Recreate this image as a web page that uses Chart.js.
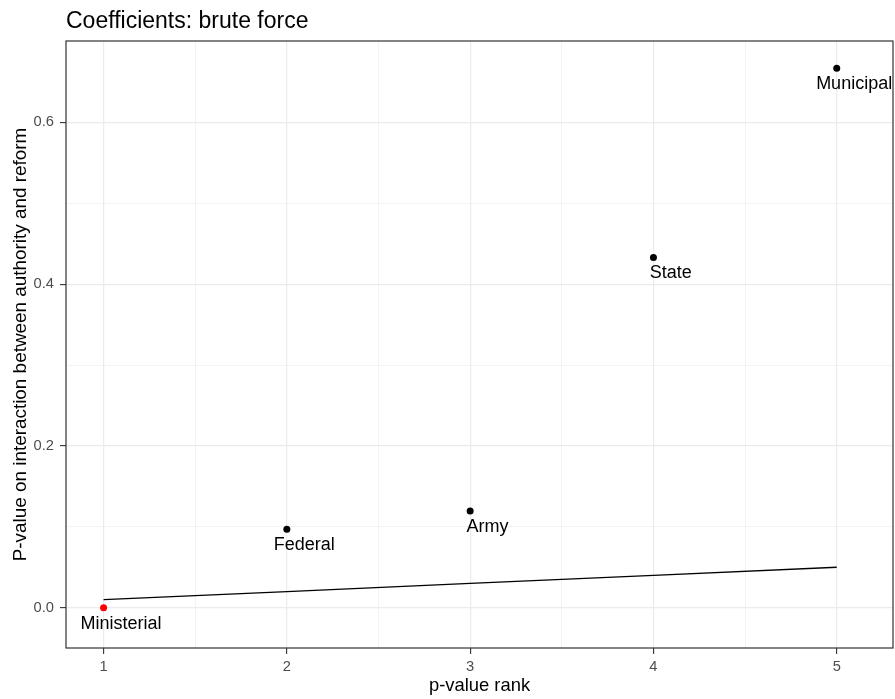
<!DOCTYPE html>
<html>
<head>
<meta charset="utf-8">
<script src="https://cdn.jsdelivr.net/npm/chart.js@4.4.1/dist/chart.umd.min.js"></script>
<style>
  html, body { margin: 0; padding: 0; background: #fff; overflow: hidden; }
  #wrap { width: 895px; height: 699px; position: relative; }
</style>
</head>
<body>
<div id="wrap"><canvas id="chart"></canvas></div>
<script>
const titleText = 'Coefficients: brute force';
const xTitle = 'p-value rank';
const yTitle = 'P-value on interaction between authority and reform';

// coefficients, ordered by p-value rank
const authorities = ['Ministerial', 'Federal', 'Army', 'State', 'Municipal'];
const ranks = [1, 2, 3, 4, 5];
const pValues = [0.0, 0.097, 0.1195, 0.433, 0.6667];
const significant = [true, false, false, false, false];

// threshold line (rank * 0.05 / 5)
const thresholdRanks = [1, 2, 3, 4, 5];
const thresholdValues = [0.01, 0.02, 0.03, 0.04, 0.05];

const xMajor = [1, 2, 3, 4, 5];
const xMinor = [1.5, 2.5, 3.5, 4.5];
const yMajor = [0.0, 0.2, 0.4, 0.6];
const yMinor = [0.1, 0.3, 0.5];

const FONT = '"Liberation Sans", Arial, Helvetica, sans-serif';
const GRID = '#EBEBEB';
const INK = '#333333';
const nudgeX = 0.095;
const nudgeY = -0.026;

function buildTicks(major, minor) {
  return major.concat(minor).sort((a, b) => a - b).map(v => ({ value: v, major: major.includes(v) }));
}

const isMajor = (ctx, list) => ctx.tick && list.includes(ctx.tick.value);

const labelPlugin = {
  id: 'pointLabels',
  afterDatasetsDraw(chart) {
    const { ctx, chartArea: a, scales } = chart;
    ctx.save();
    ctx.beginPath();
    ctx.rect(a.left, a.top, a.right - a.left, a.bottom - a.top);
    ctx.clip();
    ctx.font = `18px ${FONT}`;
    ctx.fillStyle = '#000';
    ctx.textAlign = 'center';
    ctx.textBaseline = 'alphabetic';
    authorities.forEach((name, i) => {
      const px = scales.x.getPixelForValue(ranks[i] + nudgeX);
      const py = scales.y.getPixelForValue(pValues[i] + nudgeY);
      ctx.fillText(name, px, py);
    });
    ctx.restore();
  }
};

const framePlugin = {
  id: 'panelFrame',
  afterDraw(chart) {
    const { ctx, chartArea: a } = chart;
    ctx.save();
    ctx.strokeStyle = INK;
    ctx.lineWidth = 1.2;
    ctx.strokeRect(a.left, a.top, a.right - a.left, a.bottom - a.top);
    ctx.font = `23px ${FONT}`;
    ctx.fillStyle = '#000';
    ctx.textAlign = 'left';
    ctx.textBaseline = 'alphabetic';
    ctx.fillText(titleText, a.left, 28);
    ctx.restore();
  }
};

new Chart(document.getElementById('chart'), {
  type: 'scatter',
  data: {
    datasets: [
      {
        type: 'line',
        data: thresholdRanks.map((r, i) => ({ x: r, y: thresholdValues[i] })),
        borderColor: '#000',
        borderWidth: 1.3,
        pointRadius: 0,
        fill: false,
        tension: 0
      },
      {
        data: ranks.map((r, i) => ({ x: r, y: pValues[i] })),
        pointRadius: 3.5,
        pointHoverRadius: 3.5,
        pointBorderWidth: 0,
        pointBackgroundColor: significant.map(s => s ? '#FF0000' : '#000000'),
        pointBorderColor: significant.map(s => s ? '#FF0000' : '#000000')
      }
    ]
  },
  options: {
    responsive: true,
    maintainAspectRatio: false,
    animation: false,
    events: [],
    layout: { autoPadding: false, padding: { top: 41, right: 2, left: 0, bottom: 0 } },
    plugins: {
      legend: { display: false },
      tooltip: { enabled: false },
      title: { display: false }
    },
    scales: {
      x: {
        type: 'linear',
        min: 0.795,
        max: 5.307,
        afterBuildTicks: s => { s.ticks = buildTicks(xMajor, xMinor); },
        afterFit: s => { s.height = 51; },
        border: { display: false },
        grid: {
          color: GRID,
          lineWidth: c => isMajor(c, xMajor) ? 1.2 : 0.6,
          tickColor: c => isMajor(c, xMajor) ? INK : 'rgba(0,0,0,0)',
          tickWidth: 1.1,
          tickLength: 6,
          drawTicks: true
        },
        ticks: {
          autoSkip: false,
          maxRotation: 0,
          padding: 4,
          color: '#4D4D4D',
          font: { family: FONT, size: 14.7 },
          callback: v => xMajor.includes(v) ? String(v) : ''
        },
        title: {
          display: true,
          text: xTitle,
          color: '#000',
          font: { family: FONT, size: 18.4, lineHeight: 1.2 },
          padding: { top: 0, bottom: 2 }
        }
      },
      y: {
        type: 'linear',
        min: -0.0498,
        max: 0.7005,
        afterBuildTicks: s => { s.ticks = buildTicks(yMajor, yMinor); },
        afterFit: s => { s.width = 66; },
        border: { display: false },
        grid: {
          color: GRID,
          lineWidth: c => isMajor(c, yMajor) ? 1.2 : 0.6,
          tickColor: c => isMajor(c, yMajor) ? INK : 'rgba(0,0,0,0)',
          tickWidth: 1.1,
          tickLength: 6,
          drawTicks: true
        },
        ticks: {
          autoSkip: false,
          padding: 6,
          color: '#4D4D4D',
          font: { family: FONT, size: 14.7 },
          callback: v => yMajor.includes(v) ? v.toFixed(1) : ''
        },
        title: {
          display: true,
          text: yTitle,
          color: '#000',
          font: { family: FONT, size: 18.9, lineHeight: 1.2 },
          padding: { top: 9, bottom: 0 }
        }
      }
    }
  },
  plugins: [labelPlugin, framePlugin]
});
</script>
</body>
</html>
